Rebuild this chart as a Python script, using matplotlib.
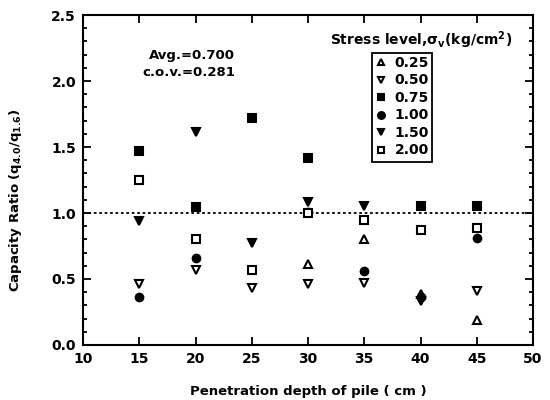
import numpy as np
import matplotlib
matplotlib.use("Agg")
import matplotlib.pyplot as plt
from matplotlib.patches import Rectangle
from matplotlib.ticker import MultipleLocator

plt.rcParams['font.family'] = ['DejaVu Sans']
plt.rcParams['font.weight'] = 'bold'

# data (nan = no point shown)
nan = np.nan
depths = [15, 20, 25, 30, 35, 40, 45]
s025 = [nan, nan, nan, 0.61, 0.80, 0.39, 0.19]
s050 = [0.46, 0.57, 0.43, 0.46, 0.47, 0.33, 0.41]
s075 = [1.47, 1.045, 1.72, 1.415, nan, 1.055, 1.055]
s100 = [0.365, 0.66, nan, 1.01, 0.56, 0.365, 0.81]
s150 = [0.94, 1.615, 0.77, 1.08, 1.055, nan, nan]
s200 = [1.25, 0.80, 0.57, 1.00, 0.95, 0.874, 0.887]
labels = ["0.25", "0.50", "0.75", "1.00", "1.50", "2.00"]

avg_text = "Avg.=0.700"
cov_text = "c.o.v.=0.281"

W, H = 550, 400
fig = plt.figure(figsize=(5.5, 4.0), dpi=100)
ax = fig.add_axes([83 / W, 1 - 345 / H, (533 - 83) / W, (345 - 15) / H])

series = [
    (s025, dict(marker="^", mfc="white", mec="black")),
    (s050, dict(marker="v", mfc="white", mec="black")),
    (s075, dict(marker="s", mfc="black", mec="black")),
    (s100, dict(marker="o", mfc="black", mec="black")),
    (s150, dict(marker="v", mfc="black", mec="black")),
    (s200, dict(marker="s", mfc="white", mec="black")),
]
for (vals, st), lab in zip(series, labels):
    ax.plot(depths, vals, linestyle="none", ms=5.5, mew=1.5, label=lab, **st)

ax.axhline(1.0, color="black", linestyle=(0, (1.5, 1.5)), lw=1.3, zorder=0)

ax.set_xlim(10, 50)
ax.set_ylim(0, 2.5)
ax.xaxis.set_major_locator(MultipleLocator(5))
ax.yaxis.set_major_locator(MultipleLocator(0.5))
ax.yaxis.set_minor_locator(MultipleLocator(0.1))
ax.yaxis.set_major_formatter(matplotlib.ticker.FormatStrFormatter("%.1f"))
ax.tick_params(which="both", direction="in", top=True, right=True, width=1.3)
ax.tick_params(which="major", length=6, labelsize=10, pad=5)
ax.tick_params(which="minor", length=3)
for sp in ax.spines.values():
    sp.set_linewidth(1.5)

ax.set_xlabel("Penetration depth of pile ( cm )", fontsize=9.5, fontweight="bold", labelpad=14)
ax.set_ylabel("Capacity Ratio (q$_{\\mathbf{4.0}}$/q$_{\\mathbf{1.6}}$)", fontsize=9.5,
              fontweight="bold")
ax.yaxis.set_label_coords(-0.13, 0.44)

# annotations
fig.text(235 / W, 1 - 55 / H, avg_text, ha="right", va="center", fontsize=9.5, fontweight="bold")
fig.text(235 / W, 1 - 72 / H, cov_text, ha="right", va="center", fontsize=9.5, fontweight="bold")

# legend
fig.text(421 / W, 1 - 40 / H, "Stress level,$\\mathbf{\\sigma_v}$(kg/cm$^{\\mathbf{2}}$)",
         ha="center", va="center", fontsize=10, fontweight="bold")
fig.patches.append(Rectangle((372 / W, 1 - 162 / H), (432 - 372) / W, (162 - 53) / H,
                             transform=fig.transFigure, fill=False, lw=1.3, ec="black"))
leg = ax.legend(loc="upper left", bbox_to_anchor=(374 / W, 1 - 56 / H),
                bbox_transform=fig.transFigure, frameon=False, prop=dict(size=10, weight="bold"),
                handlelength=1.0, handletextpad=0.5, labelspacing=0.25, borderpad=0,
                borderaxespad=0, markerscale=0.9)

fig.savefig("out.png", dpi=100)
